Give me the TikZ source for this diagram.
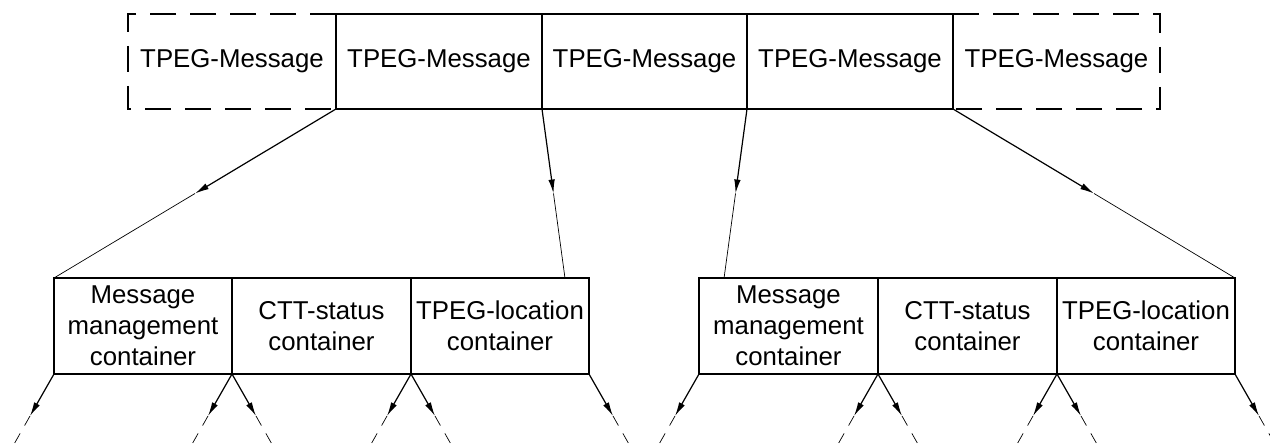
\documentclass[tikz,border=0pt]{standalone}
\usepackage{fontspec}
\setmainfont{Liberation Sans}
\usetikzlibrary{arrows.meta,calc}
\tikzset{
  box/.style={rectangle, draw, line width=2.1pt, inner sep=0pt, outer sep=0pt,
    minimum height=#1, align=center, font=\fontsize{25.8}{31}\selectfont},
  box/.default=95pt,
  dbox/.style={rectangle, inner sep=0pt, outer sep=0pt, minimum height=95pt,
    align=center, font=\fontsize{25.8}{31}\selectfont},
  dashedge/.style={line width=2.1pt, dash pattern=on 26pt off 14pt},
  conn/.style={line width=1.2pt},
  connthin/.style={line width=0.7pt},
  tip/.style={-{Latex[length=14pt,width=6.5pt]}},
  contd/.style={line width=0.7pt, dash pattern=on 11pt off 9pt},
}
\begin{document}
\begin{tikzpicture}[x=1pt,y=-1pt]
\useasboundingbox (0,0) rectangle (1270,446);
% top row
\node[dbox, minimum width=208pt] (t1) at (232,61.5) {TPEG-Message};
\draw[dashedge] (t1.north east) -- (t1.north west) -- (t1.south west) -- (t1.south east);
\node[dbox, minimum width=207pt] (t5) at (1056.5,61.5) {TPEG-Message};
\draw[dashedge] (t5.north west) -- (t5.north east) -- (t5.south east) -- (t5.south west);
\node[box, minimum width=206pt] (t2) at (439,61.5) {TPEG-Message};
\node[box, minimum width=205pt] (t3) at (644.5,61.5) {TPEG-Message};
\node[box, minimum width=206pt] (t4) at (850,61.5) {TPEG-Message};
% bottom groups
\node[box=96pt, minimum width=178pt] (b1) at (143,326) {Message\\management\\container};
\node[box=96pt, minimum width=179pt] (b2) at (321.5,326) {CTT-status\\container};
\node[box=96pt, minimum width=178pt] (b3) at (500,326) {TPEG-location\\container};
\node[box=96pt, minimum width=179pt] (b4) at (788.5,326) {Message\\management\\container};
\node[box=96pt, minimum width=179pt] (b5) at (967.5,326) {CTT-status\\container};
\node[box=96pt, minimum width=178pt] (b6) at (1146,326) {TPEG-location\\container};
% connectors top -> bottom
\coordinate (e2) at ($(b3.north west)!0.865!(b3.north east)$);
\coordinate (e3) at ($(b4.north west)!0.14!(b4.north east)$);
\foreach \s/\e/\n in {t2.south west/b1.north west/m1, t3.south west/e2/m2,
                      t4.south west/e3/m3, t5.south west/b6.north east/m4} {
  \coordinate (\n) at ($(\s)!0.5!(\e)$);
  \draw[conn,tip] (\s) -- (\n);
  \draw[connthin] (\n) -- (\e);
}
% outgoing arrows below containers
\foreach \c/\d/\n in {b1.south west/-1/a1, b1.south east/-1/a2, b1.south east/1/a3,
                      b2.south east/-1/a4, b2.south east/1/a5, b3.south east/1/a6,
                      b4.south west/-1/a7, b4.south east/-1/a8, b4.south east/1/a9,
                      b5.south east/-1/a10, b5.south east/1/a11, b6.south east/1/a12} {
  \coordinate (\n t) at ($(\c)+(\d*24,42)$);
  \coordinate (\n e) at ($(\c)+(\d*41,72)$);
  \draw[conn,tip] (\c) -- (\n t);
  \draw[contd] (\n t) -- (\n e);
}
\end{tikzpicture}
\end{document}
